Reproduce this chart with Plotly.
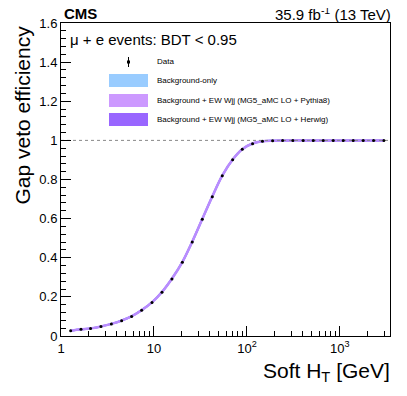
import plotly.graph_objects as go

# ---------------------------------------------------------------------------
# Data
# ---------------------------------------------------------------------------
soft_ht = [1.27, 1.64, 2.08, 2.69, 3.48, 4.49, 5.75, 7.37, 9.52, 12.2, 15.6,
           20.2, 25.8, 33.1, 42.4, 54.3, 70.2, 89.1, 115, 147, 189, 242, 312,
           403, 517, 662, 848, 1086, 1391, 1782, 2302, 2972]
data_eff = [0.027, 0.034, 0.038, 0.048, 0.061, 0.078, 0.100, 0.131, 0.171,
            0.224, 0.292, 0.377, 0.481, 0.597, 0.712, 0.819, 0.901, 0.954,
            0.983, 0.995, 0.998, 0.999, 1.0, 1.0, 1.0, 1.0, 1.0, 1.0, 1.0,
            1.0, 1.0, 1.0]
bkg_eff = [0.027, 0.034, 0.039, 0.049, 0.062, 0.079, 0.101, 0.132, 0.172,
           0.225, 0.293, 0.378, 0.482, 0.598, 0.713, 0.820, 0.902, 0.955,
           0.984, 0.995, 0.998, 0.999, 1.0, 1.0, 1.0, 1.0, 1.0, 1.0, 1.0,
           1.0, 1.0, 1.0]
pythia_eff = bkg_eff
herwig_eff = bkg_eff

x_ticks = [1, 10, 100, 1000]
x_ticktext = ["1", "10", "10<sup>2</sup>", "10<sup>3</sup>"]
x_minor = [m * d for d in (1, 10, 100, 1000) for m in range(2, 10)]
y_ticks = [0, 0.2, 0.4, 0.6, 0.8, 1.0, 1.2, 1.4, 1.6]
y_ticktext = ["0", "0.2", "0.4", "0.6", "0.8", "1", "1.2", "1.4", "1.6"]

legend_labels = ["Background-only",
                 "Background + EW Wjj (MG5_aMC LO + Pythia8)",
                 "Background + EW Wjj (MG5_aMC LO + Herwig)"]
legend_colors = ["#99ccff", "#cc99ff", "#9966ff"]

FONT = "Liberation Sans, Arial, Helvetica, sans-serif"
X_MAX = 3460

# page geometry: the page body adds an 8 px offset, so the figure is
# 8 px smaller than the window and everything is placed in page pixels
OFF = 8
W, H = 407 - OFF, 396 - OFF
FRAME = dict(left=61, right=390, top=23, bottom=336)  # page pixels
L, T = FRAME["left"] - OFF, FRAME["top"] - OFF
R, B = W - (FRAME["right"] - OFF), H - (FRAME["bottom"] - OFF)
PW, PH = W - L - R, H - T - B


def px(x):
    return (x - FRAME["left"]) / PW


def py(y):
    return (FRAME["bottom"] - y) / PH


fig = go.Figure()

# MC curves (thin bands drawn as lines)
fig.add_trace(go.Scatter(x=soft_ht, y=bkg_eff, mode="lines", line_shape="spline",
                         line=dict(color=legend_colors[0], width=2), hoverinfo="skip"))
fig.add_trace(go.Scatter(x=soft_ht, y=herwig_eff, mode="lines", line_shape="spline",
                         line=dict(color=legend_colors[2], width=2), hoverinfo="skip"))
fig.add_trace(go.Scatter(x=soft_ht, y=pythia_eff, mode="lines", line_shape="spline",
                         line=dict(color="#b98cfd", width=2.5), hoverinfo="skip"))

# Reference line at efficiency = 1
fig.add_trace(go.Scatter(x=[1, X_MAX], y=[1, 1], mode="lines",
                         line=dict(color="#888888", width=1, dash="dot"), hoverinfo="skip"))

# Data points
fig.add_trace(go.Scatter(x=soft_ht, y=data_eff, mode="markers",
                         marker=dict(color="black", size=3)))

# ---------------------------------------------------------------------------
# Legend drawn by hand (ROOT style)
# ---------------------------------------------------------------------------
fig.add_shape(type="line", xref="paper", yref="paper",
              x0=px(128.5), x1=px(128.5), y0=py(57), y1=py(67),
              line=dict(color="black", width=1))
fig.add_shape(type="rect", xref="paper", yref="paper",
              x0=px(127), x1=px(130), y0=py(60.5), y1=py(63.5),
              fillcolor="black", line_width=0)
fig.add_annotation(xref="paper", yref="paper", x=px(155), y=py(62), text="Data",
                   showarrow=False, xanchor="left", yanchor="middle",
                   font=dict(family=FONT, size=8, color="black"))
box_tops = [74, 94, 113]
for top, label, color in zip(box_tops, legend_labels, legend_colors):
    fig.add_shape(type="rect", xref="paper", yref="paper",
                  x0=px(109), x1=px(148), y0=py(top + 13), y1=py(top),
                  fillcolor=color, line_width=0)
    fig.add_annotation(xref="paper", yref="paper", x=px(155), y=py(top + 6.5), text=label,
                       showarrow=False, xanchor="left", yanchor="middle",
                       font=dict(family=FONT, size=8, color="black"))

# Header texts
fig.add_annotation(xref="paper", yref="paper", x=px(62), y=py(13), text="<b>CMS</b>",
                   showarrow=False, xanchor="left", yanchor="middle",
                   font=dict(family=FONT, size=15, color="black"))
fig.add_annotation(xref="paper", yref="paper", x=px(393), y=py(13),
                   text="35.9 fb<sup>-1</sup> (13 TeV)",
                   showarrow=False, xanchor="right", yanchor="middle",
                   font=dict(family=FONT, size=15, color="black"))
fig.add_annotation(xref="paper", yref="paper", x=px(68), y=py(39),
                   text="\u03bc + e events: BDT < 0.95",
                   showarrow=False, xanchor="left", yanchor="middle",
                   font=dict(family=FONT, size=15, color="black"))
fig.add_annotation(xref="paper", yref="paper", x=px(392), y=py(372),
                   text="Soft H<sub>T</sub> [GeV]",
                   showarrow=False, xanchor="right", yanchor="middle",
                   font=dict(family=FONT, size=21, color="black"))
fig.add_annotation(xref="paper", yref="paper", x=px(22), y=py(24),
                   text="Gap veto efficiency", textangle=-90,
                   showarrow=False, xanchor="center", yanchor="top",
                   font=dict(family=FONT, size=21, color="black"))

fig.update_layout(
    width=W, height=H,
    margin=dict(l=L, r=R, t=T, b=B, autoexpand=False),
    paper_bgcolor="white", plot_bgcolor="white",
    showlegend=False,
    font=dict(family=FONT, size=13, color="black"),
    xaxis=dict(
        type="log", range=[0, 3.539],
        tickvals=x_ticks, ticktext=x_ticktext,
        ticks="inside", ticklen=10, tickcolor="black",
        minor=dict(tickmode="array", tickvals=x_minor, ticks="inside", ticklen=5,
                   tickcolor="black", showgrid=False),
        showgrid=False, zeroline=False,
        showline=True, linecolor="black", linewidth=1, mirror=True,
        tickfont=dict(family=FONT, size=13),
    ),
    yaxis=dict(
        range=[0, 1.6],
        tickvals=y_ticks, ticktext=y_ticktext,
        ticks="inside", ticklen=10, tickcolor="black",
        minor=dict(ticks="inside", ticklen=5, tickcolor="black", dtick=0.04, showgrid=False),
        showgrid=False, zeroline=False,
        showline=True, linecolor="black", linewidth=1, mirror=True,
        tickfont=dict(family=FONT, size=13),
    ),
)

fig.write_html("out.html")
